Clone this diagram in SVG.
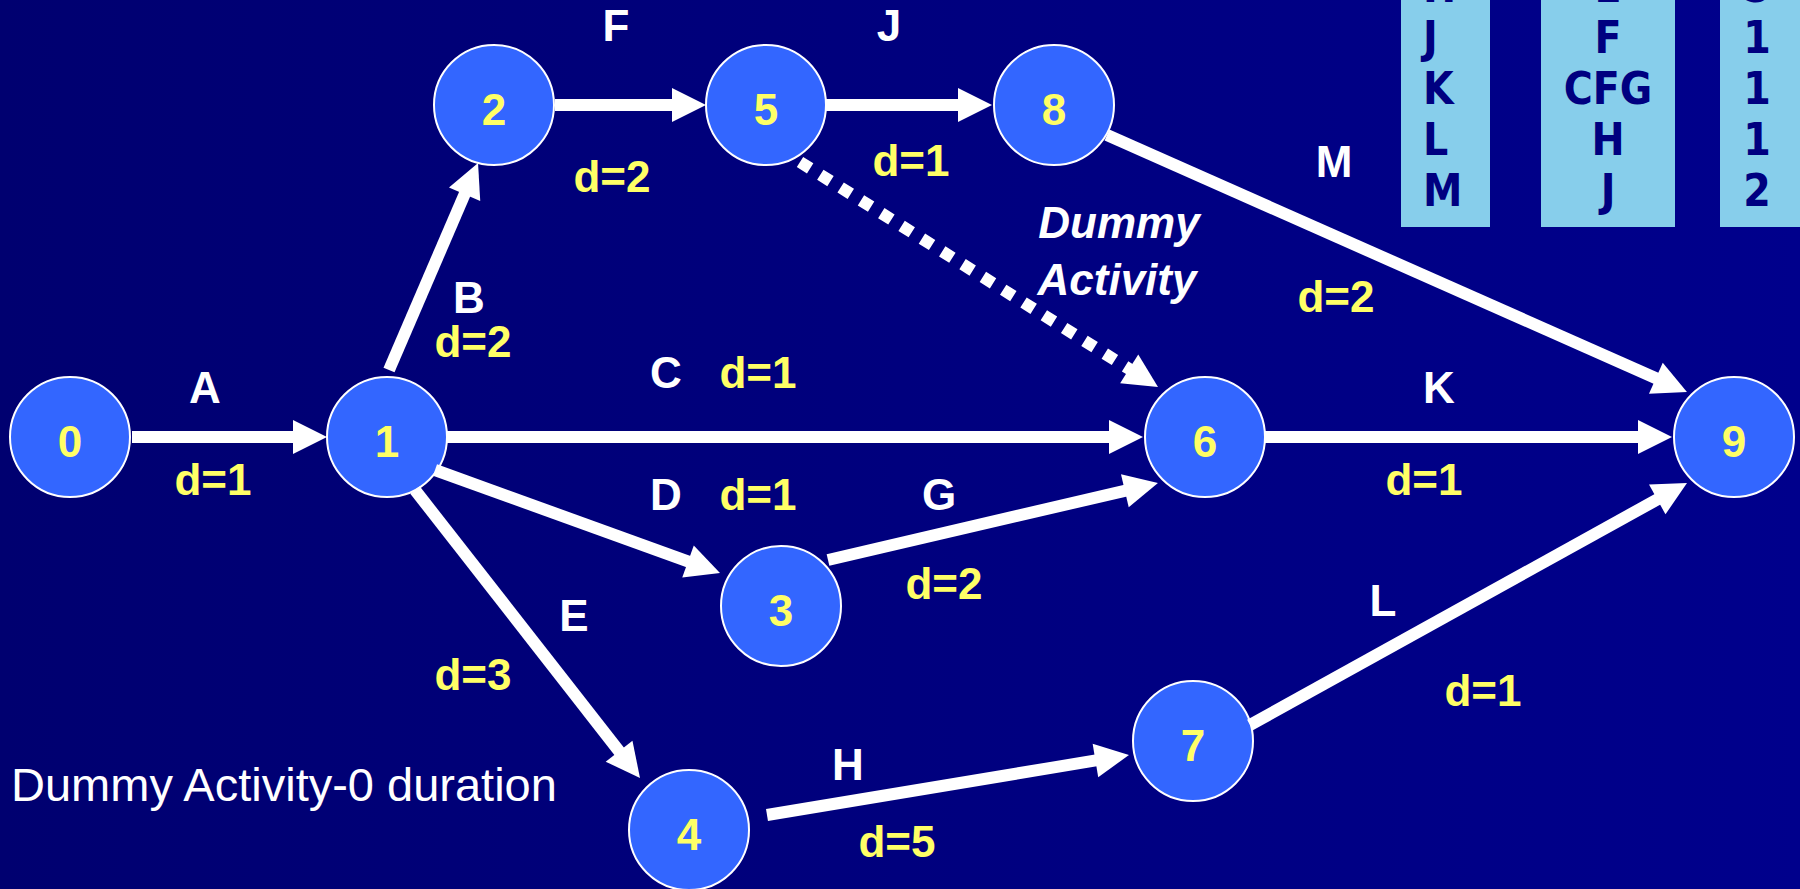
<svg xmlns="http://www.w3.org/2000/svg" width="1800" height="889" viewBox="0 0 1800 889">
<defs>
<linearGradient id="bg" x1="0" y1="0" x2="1" y2="0">
<stop offset="0" stop-color="#000070"/>
<stop offset="1" stop-color="#00008C"/>
</linearGradient>
<marker id="ah" markerUnits="userSpaceOnUse" markerWidth="40" markerHeight="40" refX="2" refY="17" orient="auto" overflow="visible">
<path d="M0,0 L34,17 L0,34 z" fill="#FFFFFF"/>
</marker>
</defs>
<style>
.node circle{fill:#3366FF;stroke:#FFFFFF;stroke-width:2}
.node text{font-family:"Liberation Sans",Arial,sans-serif;font-weight:bold;font-size:44px;fill:#FFFF66;text-anchor:middle}
.edge{stroke:#FFFFFF;stroke-width:12;fill:none;marker-end:url(#ah)}
.dash{stroke-dasharray:12 12}
.lbl{font-family:"Liberation Sans",Arial,sans-serif;font-weight:bold;font-size:44px;fill:#FFFFFF;text-anchor:middle}
.dur{font-family:"Liberation Sans",Arial,sans-serif;font-weight:bold;font-size:44px;fill:#FFFF66;text-anchor:middle}
.tbl rect{fill:#87CEEB}
.tbl text{font-family:"DejaVu Sans Condensed","DejaVu Sans",Verdana,sans-serif;font-weight:bold;font-size:44px;fill:#000080}
</style>
<rect x="0" y="0" width="1800" height="889" fill="url(#bg)"/>

<g id="table" class="tbl">
<rect x="1401" y="0" width="89" height="227"/>
<rect x="1541" y="0" width="134" height="227"/>
<rect x="1720" y="0" width="80" height="227"/>
<g text-anchor="start">
<text x="1423" y="2">H</text>
<text x="1423" y="53">J</text>
<text x="1423" y="104">K</text>
<text x="1423" y="155">L</text>
<text x="1423" y="206">M</text>
</g>
<g text-anchor="middle">
<text x="1608" y="2">E</text>
<text x="1608" y="53">F</text>
<text x="1608" y="104">CFG</text>
<text x="1608" y="155">H</text>
<text x="1608" y="206">J</text>
<text x="1757" y="2">5</text>
<text x="1757" y="53">1</text>
<text x="1757" y="104">1</text>
<text x="1757" y="155">1</text>
<text x="1757" y="206">2</text>
</g>
</g>

<g id="node0" class="node"><circle cx="70" cy="437" r="60"/><text x="70" y="457">0</text></g>
<g id="node1" class="node"><circle cx="387" cy="437" r="60"/><text x="387" y="457">1</text></g>
<g id="node2" class="node"><circle cx="494" cy="105" r="60"/><text x="494" y="125">2</text></g>
<g id="node5" class="node"><circle cx="766" cy="105" r="60"/><text x="766" y="125">5</text></g>
<g id="node8" class="node"><circle cx="1054" cy="105" r="60"/><text x="1054" y="125">8</text></g>
<g id="node6" class="node"><circle cx="1205" cy="437" r="60"/><text x="1205" y="457">6</text></g>
<g id="node9" class="node"><circle cx="1734" cy="437" r="60"/><text x="1734" y="457">9</text></g>
<g id="node3" class="node"><circle cx="781" cy="606" r="60"/><text x="781" y="626">3</text></g>
<g id="node4" class="node"><circle cx="689" cy="830" r="60"/><text x="689" y="850">4</text></g>
<g id="node7" class="node"><circle cx="1193" cy="741" r="60"/><text x="1193" y="761">7</text></g>

<g id="connectors">
<line class="edge" x1="132" y1="437" x2="295" y2="437"/>
<line class="edge" x1="389" y1="370" x2="465.4" y2="192.4"/>
<line class="edge" x1="447" y1="437" x2="1111" y2="437"/>
<line class="edge" x1="435" y1="470" x2="689.9" y2="562.1"/>
<line class="edge" x1="415" y1="490" x2="620.3" y2="752.8"/>
<line class="edge" x1="555" y1="105" x2="674" y2="105"/>
<line class="edge" x1="826" y1="105" x2="960" y2="105"/>
<line class="edge dash" x1="800" y1="162" x2="1130.9" y2="370"/>
<line class="edge" x1="828" y1="560" x2="1126.8" y2="490.3"/>
<line class="edge" x1="1265" y1="437" x2="1640" y2="437"/>
<line class="edge" x1="1107" y1="135" x2="1657.7" y2="379"/>
<line class="edge" x1="1250" y1="725" x2="1659" y2="498.5"/>
<line class="edge" x1="767" y1="815" x2="1097.4" y2="760.2"/>
</g>

<g id="labels">
<text class="lbl" x="205" y="403">A</text>
<text class="dur" x="213" y="495">d=1</text>
<text class="lbl" x="469" y="313">B</text>
<text class="dur" x="473" y="357">d=2</text>
<text class="lbl" x="666" y="388">C</text>
<text class="dur" x="758" y="388">d=1</text>
<text class="lbl" x="666" y="510">D</text>
<text class="dur" x="758" y="510">d=1</text>
<text class="lbl" x="574" y="631">E</text>
<text class="dur" x="473" y="690">d=3</text>
<text class="lbl" x="616" y="41">F</text>
<text class="dur" x="612" y="192">d=2</text>
<text class="lbl" x="889" y="41">J</text>
<text class="dur" x="911" y="176">d=1</text>
<text class="lbl" x="939" y="510">G</text>
<text class="dur" x="944" y="599">d=2</text>
<text class="lbl" x="848" y="780">H</text>
<text class="dur" x="897" y="857">d=5</text>
<text class="lbl" x="1439" y="403">K</text>
<text class="dur" x="1424" y="495">d=1</text>
<text class="lbl" x="1383" y="616">L</text>
<text class="dur" x="1483" y="706">d=1</text>
<text class="lbl" x="1334" y="177">M</text>
<text class="dur" x="1336" y="312">d=2</text>
<text class="lbl" x="1119" y="238" font-style="italic" font-size="48">Dummy</text>
<text class="lbl" x="1117" y="295" font-style="italic" font-size="48">Activity</text>
<text x="11" y="801" font-family="Liberation Sans, Arial, sans-serif" font-size="47" fill="#FFFFFF">Dummy Activity-0 duration</text>
</g>
</svg>
